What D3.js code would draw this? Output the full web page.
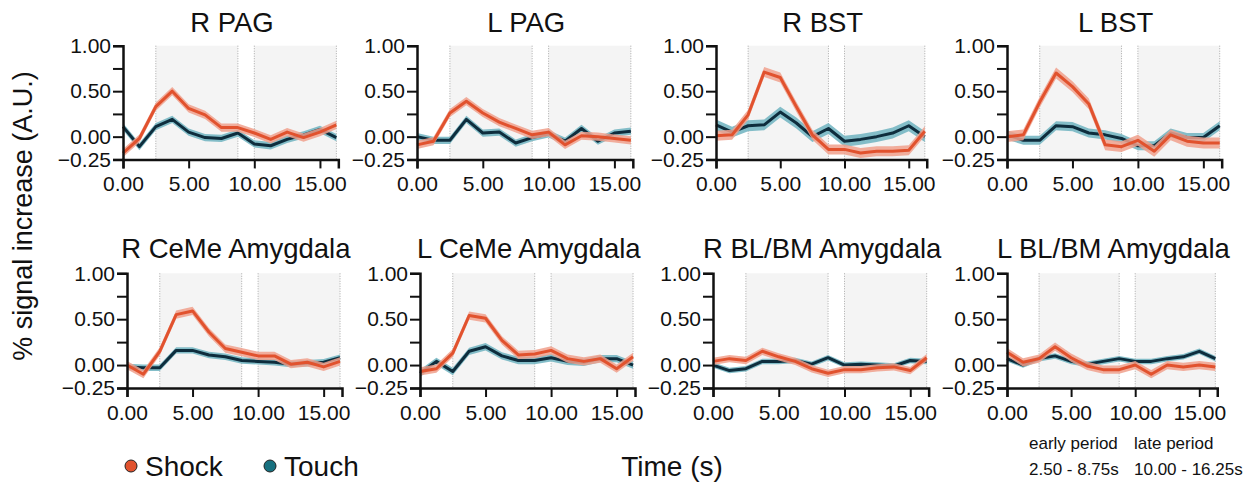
<!DOCTYPE html>
<html>
<head>
<meta charset="utf-8">
<script src="https://cdn.jsdelivr.net/npm/d3@7"></script>
<style>
  body { margin: 0; background: #fff; }
  text { font-family: "Liberation Sans", Arial, Helvetica, sans-serif; fill: #111; }
</style>
</head>
<body>
<svg id="chart" width="1255" height="483"></svg>
<script>
// time bins (s)
var times = [0, 1.25, 2.5, 3.75, 5, 6.25, 7.5, 8.75, 10, 11.25, 12.5, 13.75, 15, 16.25];
var regions = ["R PAG", "L PAG", "R BST", "L BST",
               "R CeMe Amygdala", "L CeMe Amygdala", "R BL/BM Amygdala", "L BL/BM Amygdala"];

var shock = [
  [-0.18, -0.02, 0.33, 0.50, 0.31, 0.24, 0.10, 0.10, 0.04, -0.03, 0.05, -0.01, 0.05, 0.13],
  [-0.09, -0.05, 0.26, 0.39, 0.26, 0.16, 0.09, 0.02, 0.05, -0.09, 0.01, 0.00, -0.02, -0.04],
  [0.01, 0.02, 0.24, 0.71, 0.65, 0.33, 0.02, -0.14, -0.14, -0.18, -0.16, -0.16, -0.15, 0.06],
  [0.00, 0.02, 0.38, 0.70, 0.55, 0.36, -0.09, -0.11, -0.04, -0.16, 0.02, -0.05, -0.07, -0.07],
  [0.00, -0.10, 0.15, 0.55, 0.59, 0.36, 0.18, 0.14, 0.10, 0.10, 0.01, 0.03, -0.02, 0.04],
  [-0.07, -0.04, 0.13, 0.54, 0.51, 0.27, 0.11, 0.12, 0.16, 0.07, 0.04, 0.07, -0.04, 0.09],
  [0.04, 0.07, 0.05, 0.15, 0.09, 0.04, -0.04, -0.09, -0.05, -0.05, -0.03, -0.02, -0.06, 0.08],
  [0.14, 0.03, 0.07, 0.20, 0.08, -0.01, -0.05, -0.05, 0.00, -0.10, 0.00, -0.02, 0.00, -0.02]
];
var touch = [
  [0.11, -0.11, 0.11, 0.19, 0.05, -0.01, -0.02, 0.04, -0.08, -0.10, -0.03, 0.02, 0.08, -0.01],
  [0.00, -0.04, -0.04, 0.19, 0.04, 0.05, -0.07, -0.01, 0.03, -0.05, 0.09, -0.05, 0.04, 0.06],
  [0.13, 0.05, 0.12, 0.13, 0.27, 0.15, 0.00, 0.09, -0.05, -0.03, 0.00, 0.04, 0.12, 0.00],
  [0.02, -0.04, -0.04, 0.12, 0.11, 0.04, 0.02, -0.02, -0.10, -0.10, 0.04, -0.01, -0.01, 0.12],
  [-0.02, -0.03, -0.03, 0.16, 0.16, 0.11, 0.09, 0.05, 0.04, 0.03, 0.01, 0.02, 0.03, 0.08],
  [-0.09, 0.04, -0.07, 0.15, 0.20, 0.10, 0.05, 0.05, 0.08, 0.04, 0.03, 0.07, 0.07, 0.00],
  [0.00, -0.06, -0.04, 0.04, 0.04, 0.05, 0.01, 0.08, 0.00, 0.01, 0.00, -0.01, 0.05, 0.04],
  [0.07, 0.00, 0.07, 0.10, 0.04, 0.01, 0.04, 0.07, 0.04, 0.04, 0.07, 0.09, 0.15, 0.07]
];
// standard error band half widths, one per panel
var shockSE = [0.045, 0.045, 0.055, 0.06, 0.045, 0.045, 0.04, 0.045];
var touchSE = [0.04, 0.04, 0.06, 0.05, 0.035, 0.04, 0.03, 0.03];

var periods = [[2.5, 8.75], [10, 16.25]];
var periodLines = [2.5, 8.75, 10, 16.25];
var xTicks = [0, 5, 10, 15];
var yTicks = [-0.25, 0, 0.25, 0.5, 0.75, 1];
var yLabels = [-0.25, 0, 0.5, 1];

// layout: left edge of each panel's y axis, and pixels per second
var panelX = [123, 417, 716, 1007, 127, 420, 713, 1007];
var pxPerSec = [13.13, 13.16, 12.85, 13.09, 13.11, 13.11, 13.15, 12.82];
var rowTop = [45.7, 273.3];
var rowBottom = [159.4, 388];
var titleY = [32, 258];

var shockLine = "#e1522e", shockBand = "#f0a08c";
var touchLine = "#0e2d3d", touchBand = "#6fb3c0";

var svg = d3.select("#chart");

regions.forEach(function(name, p) {
  var row = p < 4 ? 0 : 1;
  var x = d3.scaleLinear().domain([0, 16.4])
    .range([panelX[p], panelX[p] + pxPerSec[p] * 16.4]);
  var y = d3.scaleLinear().domain([-0.25, 1]).range([rowBottom[row], rowTop[row]]);
  var g = svg.append("g");

  g.selectAll("rect.period")
    .data(periods)
    .enter().append("rect")
    .attr("x", function(d) { return x(d[0]); })
    .attr("width", function(d) { return x(d[1]) - x(d[0]); })
    .attr("y", y(1))
    .attr("height", y(-0.25) - y(1))
    .attr("fill", "#f4f4f4");

  g.selectAll("line.period")
    .data(periodLines)
    .enter().append("line")
    .attr("x1", function(d) { return x(d); })
    .attr("x2", function(d) { return x(d); })
    .attr("y1", y(1)).attr("y2", y(-0.25))
    .attr("stroke", "#a8a8a8").attr("stroke-width", 1)
    .attr("stroke-dasharray", "1,1.5");

  var series = [
    { vals: touch[p], se: touchSE[p], line: touchLine, band: touchBand },
    { vals: shock[p], se: shockSE[p], line: shockLine, band: shockBand }
  ];
  series.forEach(function(s) {
    var pts = times.map(function(t, i) { return { t: t, v: s.vals[i] }; });
    var area = d3.area()
      .x(function(d) { return x(d.t); })
      .y0(function(d) { return y(d.v - s.se); })
      .y1(function(d) { return y(d.v + s.se); });
    var line = d3.line()
      .x(function(d) { return x(d.t); })
      .y(function(d) { return y(d.v); });
    g.append("path").datum(pts).attr("d", area)
      .attr("fill", s.band).attr("opacity", 0.85);
    g.append("path").datum(pts).attr("d", line)
      .attr("fill", "none").attr("stroke", s.line)
      .attr("stroke-width", 3).attr("stroke-linejoin", "round");
  });

  var xAxis = g.append("g")
    .attr("transform", "translate(0," + rowBottom[row] + ")")
    .call(d3.axisBottom(x).tickValues(xTicks).tickSize(9).tickPadding(8)
      .tickFormat(d3.format(".2f")));
  var yAxis = g.append("g")
    .attr("transform", "translate(" + panelX[p] + ",0)")
    .call(d3.axisLeft(y).tickValues(yTicks).tickSize(10).tickPadding(2)
      .tickFormat(function(d) { return yLabels.indexOf(d) >= 0 ? d3.format(".2f")(d) : ""; }));
  [xAxis, yAxis].forEach(function(a) {
    a.select(".domain").attr("stroke", "#111").attr("stroke-width", 2.5);
    a.selectAll(".tick line").attr("stroke", "#111").attr("stroke-width", 2);
    a.selectAll(".tick text").style("font-size", "21px")
      .style("font-family", "'Liberation Sans', Arial, sans-serif").attr("fill", "#111");
  });

  g.append("text")
    .attr("x", x(8.3))
    .attr("y", titleY[row])
    .attr("text-anchor", "middle")
    .style("font-size", "27.5px")
    .text(name);
});

svg.append("text")
  .attr("transform", "translate(32,216) rotate(-90)")
  .attr("text-anchor", "middle")
  .style("font-size", "27px")
  .text("% signal increase (A.U.)");

svg.append("text")
  .attr("x", 672).attr("y", 476)
  .attr("text-anchor", "middle")
  .style("font-size", "28px")
  .text("Time (s)");

var legend = [{ label: "Shock", color: shockLine, x: 131 }, { label: "Touch", color: "#17707f", x: 270 }];
legend.forEach(function(l) {
  svg.append("circle").attr("cx", l.x).attr("cy", 466).attr("r", 6)
    .attr("fill", l.color).attr("stroke", "#222").attr("stroke-width", 1);
  svg.append("text").attr("x", l.x + 14).attr("y", 476)
    .style("font-size", "28px").text(l.label);
});

var notes = [
  { x: 1029, lines: ["early period", "2.50 - 8.75s"] },
  { x: 1134, lines: ["late period", "10.00 - 16.25s"] }
];
notes.forEach(function(n) {
  n.lines.forEach(function(t, i) {
    svg.append("text").attr("x", n.x).attr("y", 449 + i * 26)
      .style("font-size", "17px").text(t);
  });
});
</script>
</body>
</html>
